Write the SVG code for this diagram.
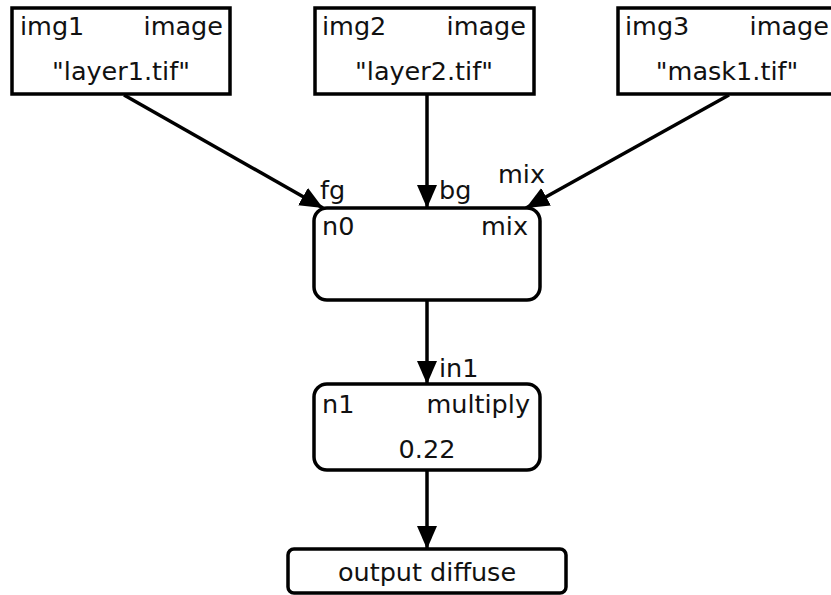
<svg xmlns="http://www.w3.org/2000/svg" width="831" height="595" viewBox="0 0 831 595">
<style>
  .box{fill:#fff;stroke:#000;stroke-width:3.5}
  text{font-family:"DejaVu Sans",sans-serif;font-size:25.5px;fill:#111}
  .e{stroke:#000;stroke-width:3.5;fill:none;marker-end:url(#ah)}
  .m{text-anchor:middle}
  .r{text-anchor:end}
</style>
<defs>
  <marker id="ah" markerWidth="23" markerHeight="20" refX="23" refY="10" orient="auto" markerUnits="userSpaceOnUse">
    <path d="M0,0 L23,10 L0,20 Z" fill="#000"/>
  </marker>
</defs>
<rect width="831" height="595" fill="#fff"/>
<g id="edges">
  <line class="e" x1="124" y1="95" x2="323" y2="208"/>
  <line class="e" x1="427" y1="95" x2="427" y2="208"/>
  <line class="e" x1="729" y1="95" x2="526" y2="208"/>
  <line class="e" x1="427" y1="300" x2="427" y2="384"/>
  <line class="e" x1="427" y1="470" x2="427" y2="549"/>
  <text x="320" y="199">fg</text>
  <text x="439" y="199">bg</text>
  <text x="498" y="183">mix</text>
  <text x="439" y="377">in1</text>
</g>
<g id="img1">
  <rect class="box" x="12" y="8" width="218" height="86"/>
  <text x="20" y="35">img1</text>
  <text class="r" x="223" y="35">image</text>
  <text class="m" x="121" y="80">"layer1.tif"</text>
</g>
<g id="img2">
  <rect class="box" x="315" y="8" width="219" height="86"/>
  <text x="322" y="35">img2</text>
  <text class="r" x="526" y="35">image</text>
  <text class="m" x="424" y="80">"layer2.tif"</text>
</g>
<g id="img3">
  <rect class="box" x="618" y="8" width="219" height="86"/>
  <text x="625" y="35">img3</text>
  <text class="r" x="829" y="35">image</text>
  <text class="m" x="727" y="80">"mask1.tif"</text>
</g>
<g id="n0">
  <rect class="box" x="314" y="208" width="226" height="92" rx="13"/>
  <text x="322" y="235">n0</text>
  <text class="r" x="528" y="235">mix</text>
</g>
<g id="n1">
  <rect class="box" x="314" y="384" width="226" height="86" rx="13"/>
  <text x="322" y="413">n1</text>
  <text class="r" x="530" y="413">multiply</text>
  <text class="m" x="427" y="458">0.22</text>
</g>
<g id="out">
  <rect class="box" x="288" y="549" width="278" height="44" rx="6"/>
  <text class="m" x="427" y="581">output diffuse</text>
</g>
</svg>
